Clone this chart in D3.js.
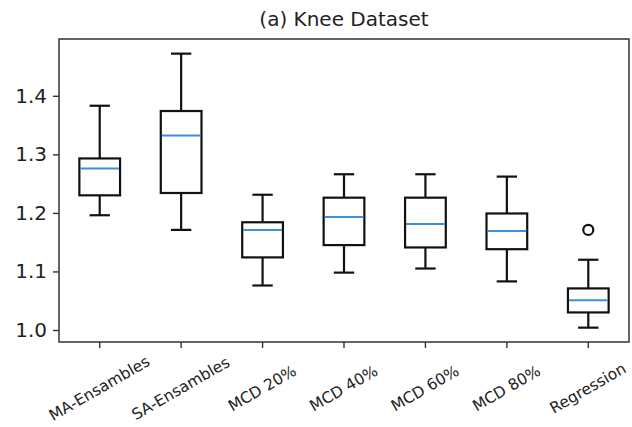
<!DOCTYPE html>
<html>
<head>
<meta charset="utf-8">
<script src="https://cdn.jsdelivr.net/npm/d3@7"></script>
<style>
  body { margin: 0; background: #fff; }
  text { font-family: "DejaVu Sans", sans-serif; fill: #222; }
</style>
</head>
<body>
<svg id="chart" width="632" height="427"></svg>
<script>
const width = 632;
const height = 427;

// dades llegides del gràfic
const categories = ["MA-Ensambles", "SA-Ensambles", "MCD 20%", "MCD 40%", "MCD 60%", "MCD 80%", "Regression"];
const whiskerLow = [1.196, 1.171, 1.076, 1.098, 1.105, 1.083, 1.004];
const q1 = [1.230, 1.234, 1.124, 1.145, 1.141, 1.138, 1.030];
const median = [1.276, 1.332, 1.171, 1.193, 1.181, 1.169, 1.051];
const q3 = [1.293, 1.374, 1.184, 1.226, 1.226, 1.199, 1.071];
const whiskerHigh = [1.383, 1.472, 1.231, 1.266, 1.266, 1.262, 1.120];
const outliers = [[], [], [], [], [], [], [1.171]];
const yTicks = [1.0, 1.1, 1.2, 1.3, 1.4];

const margin = { top: 39, right: 3, bottom: 85, left: 59 };

const svg = d3.select("#chart");

const boxes = categories.map((c, i) => ({
  name: c, lo: whiskerLow[i], q1: q1[i], med: median[i], q3: q3[i], hi: whiskerHigh[i], out: outliers[i]
}));

const x = d3.scaleBand()
  .domain(categories)
  .range([margin.left, width - margin.right])
  .paddingInner(0)
  .paddingOuter(0);

const y = d3.scaleLinear()
  .domain([0.9795, 1.497])
  .range([height - margin.bottom, margin.top]);

const bw = x.bandwidth() * 0.5;

// eix Y
const yAxis = svg.append("g")
  .attr("transform", `translate(${margin.left},0)`)
  .call(d3.axisLeft(y).tickValues(yTicks).tickFormat(d3.format(".1f")).tickSize(6).tickPadding(6));
yAxis.select(".domain").remove();
yAxis.selectAll("line").attr("stroke", "#333").attr("stroke-width", 1.4);
yAxis.selectAll("text").style("font-size", "20px").style("fill", "#222");

// eix X
const xAxis = svg.append("g")
  .attr("transform", `translate(0,${height - margin.bottom})`)
  .call(d3.axisBottom(x).tickSize(6).tickFormat(""));
xAxis.select(".domain").remove();
xAxis.selectAll("line").attr("stroke", "#333").attr("stroke-width", 1.4);

svg.append("g")
  .selectAll("text")
  .data(categories)
  .join("text")
  .attr("transform", d => `translate(${x(d) + x.bandwidth() / 2},${height - margin.bottom + 47}) rotate(-30)`)
  .attr("text-anchor", "middle")
  .attr("dominant-baseline", "middle")
  .style("font-size", "15.5px")
  .text(d => d);

// caixes
const g = svg.append("g");
const bx = g.selectAll("g.box")
  .data(boxes)
  .join("g")
  .attr("class", "box")
  .attr("transform", d => `translate(${x(d.name) + x.bandwidth() / 2},0)`);

bx.append("line")
  .attr("y1", d => y(d.q3)).attr("y2", d => y(d.hi))
  .attr("stroke", "#111").attr("stroke-width", 2.2);
bx.append("line")
  .attr("y1", d => y(d.q1)).attr("y2", d => y(d.lo))
  .attr("stroke", "#111").attr("stroke-width", 2.2);
bx.append("line")
  .attr("x1", -bw / 4).attr("x2", bw / 4)
  .attr("y1", d => y(d.hi)).attr("y2", d => y(d.hi))
  .attr("stroke", "#111").attr("stroke-width", 2.2);
bx.append("line")
  .attr("x1", -bw / 4).attr("x2", bw / 4)
  .attr("y1", d => y(d.lo)).attr("y2", d => y(d.lo))
  .attr("stroke", "#111").attr("stroke-width", 2.2);
bx.append("rect")
  .attr("x", -bw / 2).attr("width", bw)
  .attr("y", d => y(d.q3)).attr("height", d => y(d.q1) - y(d.q3))
  .attr("fill", "none").attr("stroke", "#111").attr("stroke-width", 2.2);
bx.append("line")
  .attr("x1", -bw / 2 + 1).attr("x2", bw / 2 - 1)
  .attr("y1", d => y(d.med)).attr("y2", d => y(d.med))
  .attr("stroke", "#3b8ee0").attr("stroke-width", 2);
bx.selectAll("circle")
  .data(d => d.out)
  .join("circle")
  .attr("cy", d => y(d))
  .attr("r", 5)
  .attr("fill", "none").attr("stroke", "#111").attr("stroke-width", 2.2);

// marc
svg.append("rect")
  .attr("x", margin.left).attr("y", margin.top)
  .attr("width", width - margin.left - margin.right)
  .attr("height", height - margin.top - margin.bottom)
  .attr("fill", "none").attr("stroke", "#333").attr("stroke-width", 1.5);

// títol
svg.append("text")
  .attr("x", (margin.left + width - margin.right) / 2)
  .attr("y", 26)
  .attr("text-anchor", "middle")
  .style("font-size", "20px")
  .text("(a) Knee Dataset");
</script>
</body>
</html>
